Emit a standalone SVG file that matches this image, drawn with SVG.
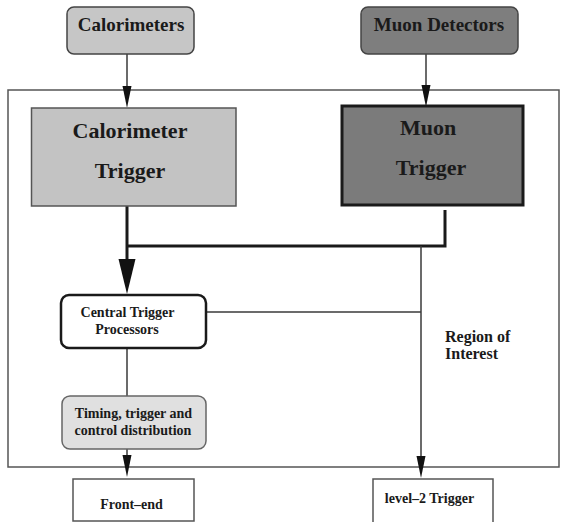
<svg xmlns="http://www.w3.org/2000/svg" width="561" height="522" viewBox="0 0 561 522">
<style>
text{font-family:"Liberation Serif","Times New Roman",serif;font-weight:bold;fill:#1a1a1a;text-anchor:middle}
.src{stroke:#444;stroke-width:1.5}
.thin{fill:none;stroke:#3a3a3a;stroke-width:1.5}
.thick{fill:none;stroke:#1a1a1a;stroke-width:3}
.head{fill:#111}
.big{font-size:22px}
.med{font-size:19px}
.sm{font-size:14px}
.roi{font-size:16px;text-anchor:start}
.out{fill:#fff;stroke:#555;stroke-width:1.5}
</style>
<rect width="561" height="522" fill="#fff"/>
<rect id="frame" x="8" y="90" width="551" height="377" fill="none" stroke="#555" stroke-width="1.5"/>
<g id="connectors">
<path class="thin" d="M127,54 V86"/>
<path class="head" d="M122.5,86 L131.5,86 L127,108 Z"/>
<path class="thin" d="M426,54 V85"/>
<path class="head" d="M421.5,85 L430.5,85 L426,107 Z"/>
<path class="thick" d="M127,206 V260"/>
<path class="thick" d="M127,246 H445 V210"/>
<path class="head" d="M118.5,259 L135.5,259 L127,294 Z"/>
<path class="thin" d="M421,246 V456"/>
<path class="head" d="M416.5,456 L425.5,456 L421,478 Z"/>
<path class="thin" d="M206,312 H421"/>
<path class="thin" d="M127,348 V396"/>
<path class="thin" d="M127,449 V456"/>
<path class="head" d="M122.5,455 L131.5,455 L127,477 Z"/>
</g>
<g id="calorimeters">
<rect x="67" y="7" width="127" height="47" rx="7" fill="#c6c6c6" class="src"/>
<text class="med" x="131" y="31">Calorimeters</text>
</g>
<g id="muon-detectors">
<rect x="361" y="7" width="157" height="47" rx="7" fill="#7e7e7e" class="src"/>
<text class="med" x="439" y="31">Muon Detectors</text>
</g>
<g id="calorimeter-trigger">
<rect x="31.5" y="108" width="204.5" height="98" fill="#c3c3c3" stroke="#555" stroke-width="1.5"/>
<text class="big" x="130" y="138">Calorimeter</text>
<text class="big" x="130" y="178">Trigger</text>
</g>
<g id="muon-trigger">
<rect x="342" y="106" width="181" height="99" fill="#7b7b7b" stroke="#1a1a1a" stroke-width="3"/>
<text class="big" x="428" y="135">Muon</text>
<text class="big" x="431" y="175">Trigger</text>
</g>
<g id="central-trigger-processors">
<rect x="61" y="295" width="145" height="53" rx="8" fill="#fff" stroke="#1a1a1a" stroke-width="2.5"/>
<text class="sm" x="127.5" y="317">Central Trigger</text>
<text class="sm" x="127" y="334">Processors</text>
</g>
<g id="ttc">
<rect x="62" y="396" width="144" height="53" rx="8" fill="#e0e0e0" stroke="#666" stroke-width="1.5"/>
<text class="sm" x="133.5" y="418">Timing, trigger and</text>
<text class="sm" x="133" y="435">control distribution</text>
</g>
<g id="roi-label">
<text class="roi" x="445" y="342">Region of</text>
<text class="roi" x="445" y="359">Interest</text>
</g>
<g id="front-end">
<rect class="out" x="73" y="479" width="121" height="42"/>
<text class="sm" x="131.5" y="509">Front–end</text>
</g>
<g id="level2-trigger">
<rect class="out" x="373" y="479" width="120" height="44"/>
<text class="sm" x="429.5" y="503">level–2 Trigger</text>
</g>
</svg>
